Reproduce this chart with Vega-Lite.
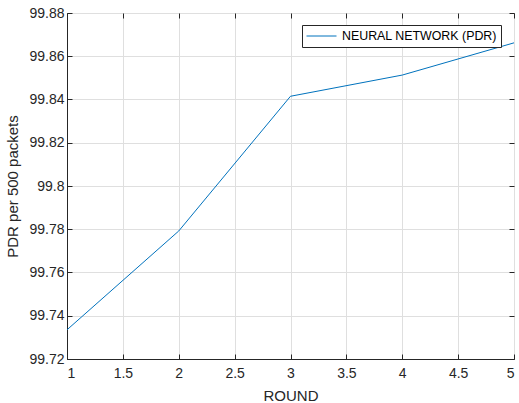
{
  "$schema": "https://vega.github.io/schema/vega-lite/v6.json",
  "width": 447,
  "height": 346,
  "autosize": {"type": "none"},
  "padding": {"left": 67, "top": 13, "right": 5, "bottom": 44},
  "background": "white",
  "config": {
    "font": "Liberation Sans",
    "view": {"stroke": "#262626", "strokeWidth": 1},
    "axis": {
      "domainColor": "#262626",
      "tickColor": "#262626",
      "labelColor": "#262626",
      "titleColor": "#262626",
      "labelFontSize": 14,
      "titleFontSize": 15,
      "titleFontWeight": "normal",
      "gridColor": "#dfdfdf",
      "tickSize": -5,
      "labelPadding": 10
    }
  },
  "data": {"values": [
    {"round": 1, "pdr": 99.7335, "series": "NEURAL NETWORK (PDR)"},
    {"round": 2, "pdr": 99.7792, "series": "NEURAL NETWORK (PDR)"},
    {"round": 3, "pdr": 99.8415, "series": "NEURAL NETWORK (PDR)"},
    {"round": 4, "pdr": 99.8513, "series": "NEURAL NETWORK (PDR)"},
    {"round": 5, "pdr": 99.8662, "series": "NEURAL NETWORK (PDR)"}
  ]},
  "layer": [
    {
      "mark": {"type": "line", "strokeWidth": 1},
      "encoding": {
        "x": {"field": "round", "type": "quantitative", "scale": {"domain": [1, 5], "nice": false},
          "axis": {"orient": "bottom", "title": "ROUND", "values": [1, 1.5, 2, 2.5, 3, 3.5, 4, 4.5, 5], "format": "~g", "labelPadding": 12, "titlePadding": 8}},
        "y": {"field": "pdr", "type": "quantitative", "scale": {"domain": [99.72, 99.88], "nice": false, "zero": false},
          "axis": {"orient": "left", "title": "PDR per 500 packets", "values": [99.72, 99.74, 99.76, 99.78, 99.8, 99.82, 99.84, 99.86, 99.88], "format": "~g", "labelPadding": 8, "titlePadding": 8}},
        "color": {"field": "series", "type": "nominal", "scale": {"range": ["#0072BD"]},
          "legend": {"title": null, "orient": "none", "legendX": 235, "legendY": 12, "direction": "vertical",
            "symbolType": "stroke", "symbolSize": 900, "symbolStrokeWidth": 1, "labelFontSize": 12.4, "labelColor": "#000000", "labelLimit": 400,
            "clipHeight": 14,
            "strokeColor": "#262626", "fillColor": "white", "padding": 4, "labelOffset": 5}}
      }
    },
    {
      "mark": {"type": "line", "strokeOpacity": 0},
      "encoding": {
        "x": {"field": "round", "type": "quantitative", "scale": {"domain": [1, 5], "nice": false},
          "axis": {"orient": "top", "title": null, "labels": false, "grid": false, "domain": false, "values": [1, 1.5, 2, 2.5, 3, 3.5, 4, 4.5, 5]}},
        "y": {"field": "pdr", "type": "quantitative", "scale": {"domain": [99.72, 99.88], "nice": false, "zero": false},
          "axis": {"orient": "right", "title": null, "labels": false, "grid": false, "domain": false, "values": [99.72, 99.74, 99.76, 99.78, 99.8, 99.82, 99.84, 99.86, 99.88]}}
      }
    }
  ],
  "resolve": {"axis": {"x": "independent", "y": "independent"}}
}
